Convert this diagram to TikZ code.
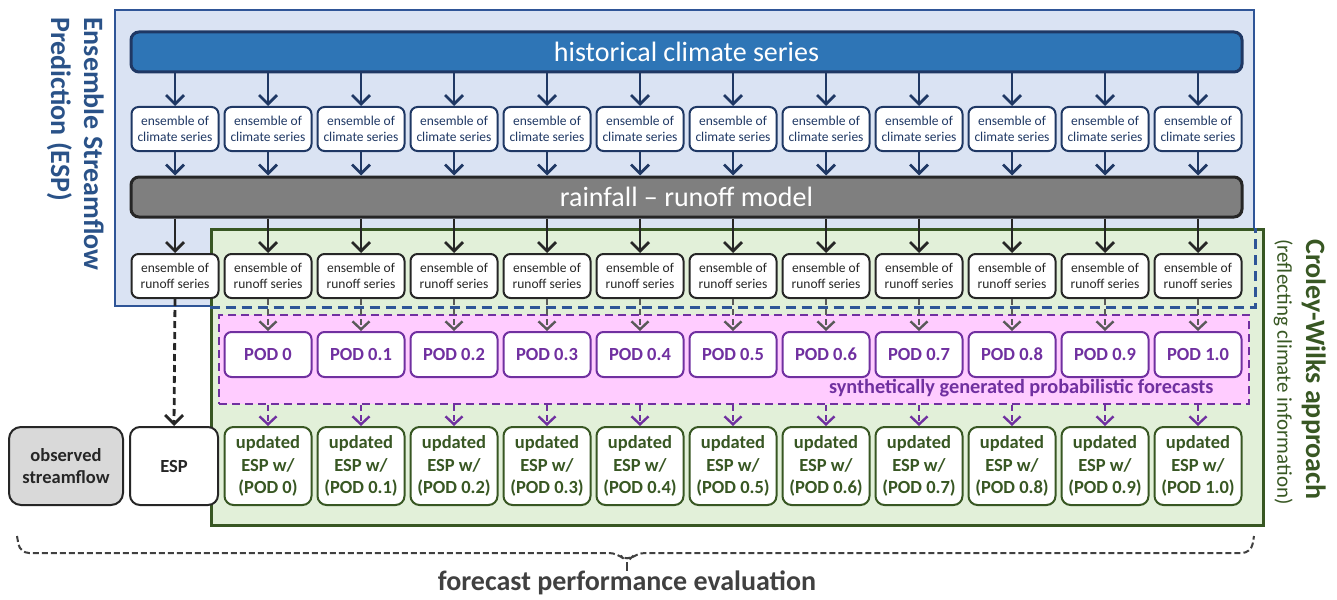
\documentclass[tikz,border=0pt]{standalone}
\usepackage{fontspec}
\setmainfont{Carlito}
\usetikzlibrary{arrows.meta}
\definecolor{espfill}{HTML}{DAE3F3}
\definecolor{espline}{HTML}{2F5597}
\definecolor{esptext}{HTML}{2A5288}
\definecolor{cwfill}{HTML}{E2F0D9}
\definecolor{cwline}{HTML}{385723}
\definecolor{pinkfill}{HTML}{FFCCFF}
\definecolor{purp}{HTML}{7030A0}
\definecolor{histfill}{HTML}{2E75B6}
\definecolor{navy}{HTML}{1F3864}
\definecolor{rrfill}{HTML}{7F7F7F}
\definecolor{darkg}{HTML}{262626}
\definecolor{midg}{HTML}{595959}
\definecolor{obsfill}{HTML}{D9D9D9}
\definecolor{txtg}{HTML}{404040}
\tikzset{
  panel/.style={draw, inner sep=0, line width=2.5},
  bar/.style={draw, rounded corners=8, line width=3, inner sep=0, text=white,
    minimum width=1111, minimum height=40, font=\fontsize{28}{32}\selectfont},
  smallbox/.style={draw, fill=white, rounded corners=7, line width=2, inner sep=0,
    minimum width=87, minimum height=44, align=center,
    font=\fontsize{13.5}{16}\selectfont},
  climbox/.style={smallbox, draw=navy, text=navy},
  runbox/.style={smallbox, draw=darkg, text=darkg},
  podbox/.style={smallbox, draw=purp, text=purp, minimum height=45,
    font=\fontsize{18.5}{22}\selectfont\bfseries},
  updbox/.style={smallbox, draw=cwline, text=cwline, minimum height=78, rounded corners=9,
    font=\fontsize{18.5}{22.5}\selectfont\bfseries},
  tip/.style={-{Straight Barb[length=9,width=18,line width=2.8]}},
  navyarrow/.style={tip, draw=navy, line width=2.8},
  blackarrow/.style={tip, draw=darkg, line width=2.8},
  grayarrow/.style={-{Straight Barb[length=8,width=17,line width=2.4]}, draw=midg, line width=2.4, dash pattern=on 6 off 4},
  purparrow/.style={-{Straight Barb[length=8,width=17,line width=2.4]}, draw=purp, line width=2.4, dash pattern=on 6 off 4},
  espdash/.style={-{Straight Barb[length=9,width=18,line width=2.8]}, draw=darkg, line width=2.8, dash pattern=on 7 off 4},
}
\begin{document}
\begin{tikzpicture}[x=1pt,y=-1pt]
\useasboundingbox (0,0) rectangle (1337,599);
% panels
\node[panel, fill=espfill, draw=espline, minimum width=1139, minimum height=296] (esppanel) at (684.5,158) {};
\node[panel, fill=cwfill, draw=cwline, line width=3, minimum width=1052, minimum height=296] (cwpanel) at (737,377) {};
\draw[espline, line width=2.5, dash pattern=on 10 off 6] (cwpanel.west |- esppanel.south) -- (esppanel.south east) -- (esppanel.east |- cwpanel.north);
\node[panel, fill=pinkfill, draw=purp, line width=2, dash pattern=on 8 off 5, minimum width=1030, minimum height=89] (pink) at (734,359.5) {};
% bars
\node[bar, fill=histfill, draw=navy] (hist) at (686.5,52) {historical climate series};
\node[bar, fill=rrfill, draw=darkg] (rr) at (686.5,197) {rainfall -- runoff model};
% columns
\foreach \i in {0,...,11}{
  \pgfmathsetmacro{\cx}{175+93*\i}
  \node[climbox] (c\i) at (\cx,129) {ensemble of\\climate series};
  \node[runbox] (r\i) at (\cx,276) {ensemble of\\runoff series};
  \draw[navyarrow] (c\i.north |- hist.south) -- (c\i.north);
  \draw[navyarrow] (c\i.south) -- (c\i.south |- rr.north);
  \draw[blackarrow] (r\i.north |- rr.south) -- (r\i.north);
}
\foreach \i/\p in {1/0,2/0.1,3/0.2,4/0.3,5/0.4,6/0.5,7/0.6,8/0.7,9/0.8,10/0.9,11/1.0}{
  \pgfmathsetmacro{\cx}{175+93*\i}
  \node[podbox] (p\i) at (\cx,354.5) {POD \p};
  \node[updbox] (u\i) at (\cx,466) {updated\\ESP w/\\(POD \p)};
  \draw[grayarrow] (r\i.south) -- (p\i.north);
  \draw[purparrow] (u\i.north |- pink.south) -- (u\i.north);
}
\node[anchor=east, text=purp, font=\fontsize{20.3}{24}\selectfont\bfseries] (synth) at (1217,388) {synthetically generated probabilistic forecasts};
% ESP and observed
\node[smallbox, draw=darkg, text=darkg, minimum width=88, minimum height=78, rounded corners=10,
  font=\fontsize{18.5}{22}\selectfont\bfseries] (esp) at (174,466) {ESP};
\node[smallbox, draw=darkg, fill=obsfill, text=darkg, minimum width=114, minimum height=78, rounded corners=12,
  font=\fontsize{18.5}{22}\selectfont\bfseries] (obs) at (66,466) {observed\\streamflow};
\draw[espdash] (r0.south) -- (esp.north);
% side titles
\node[rotate=-90, anchor=north west, inner sep=0, text=esptext, font=\fontsize{28}{32}\selectfont\bfseries] (espt1) at (104,17) {Ensemble Streamflow};
\node[rotate=-90, anchor=north west, inner sep=0, text=esptext, font=\fontsize{28}{32}\selectfont\bfseries] (espt2) at (72,17) {Prediction (ESP)};
\node[rotate=-90, anchor=north west, inner sep=0, text=cwline, font=\fontsize{28}{32}\selectfont\bfseries] (cwt1) at (1326,239) {Croley-Wilks approach};
\node[rotate=-90, anchor=north west, inner sep=0, text=cwline, font=\fontsize{21}{25}\selectfont] (cwt2) at (1293,239) {(reflecting climate information)};
% brace
\node[text=txtg, font=\fontsize{28}{32}\selectfont\bfseries, inner sep=0] (eval) at (627,583) {forecast performance evaluation};
\coordinate (bl) at (17,536);
\coordinate (br) at (1254,536);
\coordinate (btip) at (627,562);
\draw[txtg, line width=2, dash pattern=on 6 off 3, rounded corners=9] (bl) -- (20,553) -- (618,553) -- (btip) -- (636,553) -- (1251,553) -- (br);
\draw[txtg, line width=2] (btip) -- (btip |- eval.north);
\end{tikzpicture}
\end{document}
